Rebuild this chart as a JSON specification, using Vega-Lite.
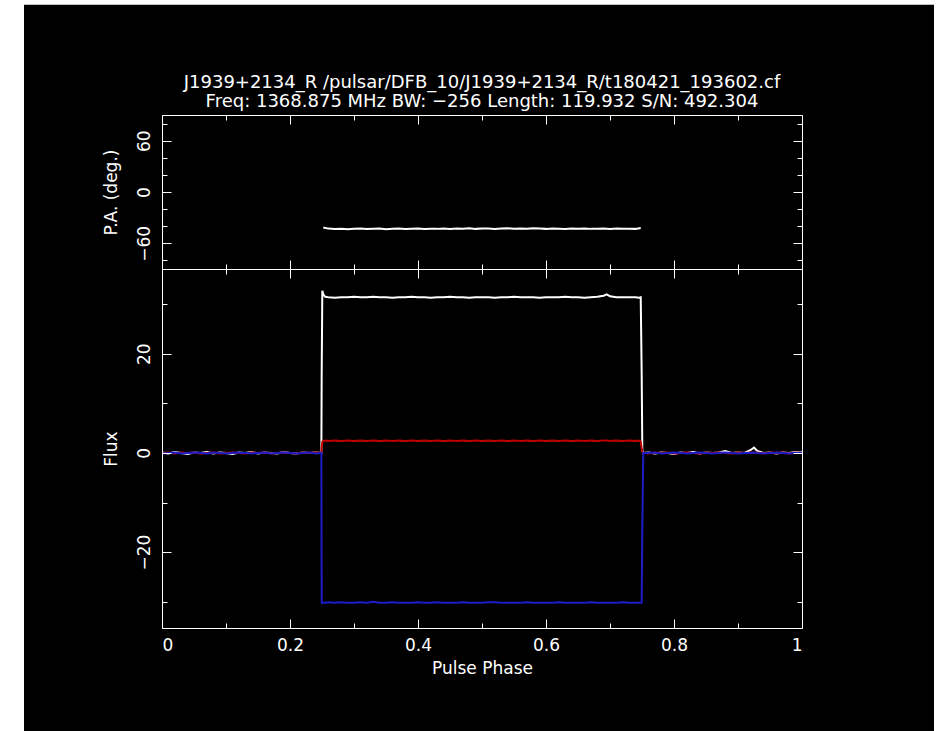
{
  "$schema": "https://vega.github.io/schema/vega-lite/v6.json",
  "background": "white",
  "padding": {"left": 24, "top": 4, "right": 14, "bottom": 0},
  "autosize": {"type": "pad"},
  "spacing": 0,
  "bounds": "flush",
  "config": {
    "view": {"stroke": null},
    "font": "DejaVu Sans",
    "axis": {
      "grid": false,
      "domainColor": "white",
      "domainWidth": 1,
      "tickColor": "white",
      "tickWidth": 1,
      "labelColor": "white",
      "titleColor": "white",
      "labelFont": "DejaVu Sans",
      "titleFont": "DejaVu Sans",
      "labelFontSize": 17,
      "titleFontSize": 17,
      "labelFontWeight": "normal",
      "titleFontWeight": "normal",
      "zindex": 1
    }
  },
  "datasets": {
    "prof": [
      {"p":0,"I":0.1,"L":0,"V":-0.1},
      {"p":0.01,"I":-0.1,"L":0.1,"V":0},
      {"p":0.02,"I":0.2,"L":-0.1,"V":0.1},
      {"p":0.03,"I":0,"L":0.1,"V":-0.1},
      {"p":0.04,"I":-0.2,"L":0,"V":0},
      {"p":0.05,"I":0.1,"L":0.1,"V":0.1},
      {"p":0.06,"I":0,"L":-0.1,"V":0},
      {"p":0.07,"I":0.2,"L":0,"V":-0.1},
      {"p":0.08,"I":-0.1,"L":0.1,"V":0.1},
      {"p":0.09,"I":0.1,"L":-0.1,"V":0},
      {"p":0.1,"I":0,"L":0,"V":-0.1},
      {"p":0.11,"I":-0.2,"L":0.1,"V":0},
      {"p":0.12,"I":0.1,"L":0,"V":0.1},
      {"p":0.13,"I":0,"L":-0.1,"V":0},
      {"p":0.14,"I":0.2,"L":0.1,"V":-0.1},
      {"p":0.15,"I":-0.1,"L":0,"V":0},
      {"p":0.16,"I":0.1,"L":0.1,"V":0.1},
      {"p":0.17,"I":0,"L":-0.1,"V":-0.1},
      {"p":0.18,"I":-0.1,"L":0,"V":0},
      {"p":0.19,"I":0.2,"L":0.1,"V":0.1},
      {"p":0.2,"I":0,"L":0,"V":0},
      {"p":0.21,"I":-0.1,"L":-0.1,"V":-0.1},
      {"p":0.22,"I":0.1,"L":0.1,"V":0},
      {"p":0.23,"I":0,"L":0,"V":0.1},
      {"p":0.24,"I":0.1,"L":0.1,"V":-0.1},
      {"p":0.249,"I":0,"L":0,"V":0},
      {"p":0.2495,"I":16,"L":1.2,"V":-30.1},
      {"p":0.2505,"I":32.7,"L":2.3,"V":-30.3},
      {"p":0.252,"I":32,"L":2.4,"V":-30.2},
      {"p":0.255,"I":31.5,"L":2.5,"V":-30.2},
      {"p":0.26,"I":31.4,"L":2.4,"V":-30.1},
      {"p":0.27,"I":31.3,"L":2.5,"V":-30.2},
      {"p":0.28,"I":31.4,"L":2.4,"V":-30.1},
      {"p":0.29,"I":31.4,"L":2.5,"V":-30.2},
      {"p":0.3,"I":31.5,"L":2.4,"V":-30.2},
      {"p":0.31,"I":31.4,"L":2.5,"V":-30.1},
      {"p":0.32,"I":31.4,"L":2.4,"V":-30.2},
      {"p":0.33,"I":31.5,"L":2.5,"V":-30},
      {"p":0.34,"I":31.4,"L":2.4,"V":-30.2},
      {"p":0.35,"I":31.4,"L":2.5,"V":-30.2},
      {"p":0.36,"I":31.3,"L":2.4,"V":-30.1},
      {"p":0.37,"I":31.4,"L":2.5,"V":-30.2},
      {"p":0.38,"I":31.4,"L":2.4,"V":-30.2},
      {"p":0.39,"I":31.5,"L":2.5,"V":-30.2},
      {"p":0.4,"I":31.4,"L":2.4,"V":-30.1},
      {"p":0.41,"I":31.4,"L":2.5,"V":-30.2},
      {"p":0.42,"I":31.3,"L":2.4,"V":-30.2},
      {"p":0.43,"I":31.4,"L":2.5,"V":-30.1},
      {"p":0.44,"I":31.4,"L":2.4,"V":-30.2},
      {"p":0.45,"I":31.5,"L":2.5,"V":-30.2},
      {"p":0.46,"I":31.4,"L":2.4,"V":-30.2},
      {"p":0.47,"I":31.4,"L":2.5,"V":-30.1},
      {"p":0.48,"I":31.3,"L":2.4,"V":-30.2},
      {"p":0.49,"I":31.4,"L":2.5,"V":-30.2},
      {"p":0.5,"I":31.4,"L":2.4,"V":-30.2},
      {"p":0.51,"I":31.4,"L":2.5,"V":-30.1},
      {"p":0.52,"I":31.3,"L":2.4,"V":-30.1},
      {"p":0.53,"I":31.4,"L":2.5,"V":-30.2},
      {"p":0.54,"I":31.4,"L":2.4,"V":-30.2},
      {"p":0.55,"I":31.5,"L":2.5,"V":-30.2},
      {"p":0.56,"I":31.4,"L":2.4,"V":-30.2},
      {"p":0.57,"I":31.4,"L":2.5,"V":-30.1},
      {"p":0.58,"I":31.4,"L":2.4,"V":-30.2},
      {"p":0.59,"I":31.3,"L":2.5,"V":-30.2},
      {"p":0.6,"I":31.4,"L":2.4,"V":-30.2},
      {"p":0.61,"I":31.4,"L":2.5,"V":-30.2},
      {"p":0.62,"I":31.4,"L":2.4,"V":-30.1},
      {"p":0.63,"I":31.5,"L":2.5,"V":-30.2},
      {"p":0.64,"I":31.4,"L":2.4,"V":-30.2},
      {"p":0.65,"I":31.4,"L":2.5,"V":-30.2},
      {"p":0.66,"I":31.3,"L":2.4,"V":-30.2},
      {"p":0.67,"I":31.4,"L":2.5,"V":-30.1},
      {"p":0.68,"I":31.5,"L":2.4,"V":-30.2},
      {"p":0.69,"I":31.7,"L":2.5,"V":-30.2},
      {"p":0.695,"I":32,"L":2.5,"V":-30.2},
      {"p":0.7,"I":31.6,"L":2.4,"V":-30.2},
      {"p":0.71,"I":31.4,"L":2.5,"V":-30.2},
      {"p":0.72,"I":31.4,"L":2.4,"V":-30.1},
      {"p":0.73,"I":31.4,"L":2.5,"V":-30.2},
      {"p":0.74,"I":31.4,"L":2.4,"V":-30.2},
      {"p":0.745,"I":31.3,"L":2.5,"V":-30.2},
      {"p":0.748,"I":31.4,"L":2.3,"V":-30.2},
      {"p":0.7495,"I":16,"L":1,"V":-30.2},
      {"p":0.7505,"I":0.5,"L":0.3,"V":-15},
      {"p":0.752,"I":0,"L":0,"V":0},
      {"p":0.76,"I":0.1,"L":-0.1,"V":0},
      {"p":0.77,"I":-0.1,"L":0.1,"V":0.1},
      {"p":0.78,"I":0.1,"L":0,"V":-0.1},
      {"p":0.79,"I":0,"L":0.1,"V":0},
      {"p":0.8,"I":-0.2,"L":-0.1,"V":0.1},
      {"p":0.81,"I":0.1,"L":0,"V":0},
      {"p":0.82,"I":0,"L":0.1,"V":-0.1},
      {"p":0.83,"I":0.2,"L":0,"V":0},
      {"p":0.84,"I":-0.1,"L":-0.1,"V":0.1},
      {"p":0.85,"I":0.1,"L":0.1,"V":0},
      {"p":0.86,"I":0,"L":0,"V":-0.1},
      {"p":0.87,"I":0.1,"L":0.1,"V":0},
      {"p":0.88,"I":0.4,"L":0,"V":0.1},
      {"p":0.89,"I":0,"L":-0.1,"V":0},
      {"p":0.9,"I":0.1,"L":0.1,"V":-0.1},
      {"p":0.91,"I":0,"L":0,"V":0},
      {"p":0.92,"I":0.6,"L":0.1,"V":0},
      {"p":0.925,"I":1.1,"L":0,"V":0.1},
      {"p":0.93,"I":0.4,"L":0.1,"V":0},
      {"p":0.94,"I":0,"L":-0.1,"V":-0.1},
      {"p":0.95,"I":0.1,"L":0.1,"V":0},
      {"p":0.96,"I":-0.1,"L":0,"V":0.1},
      {"p":0.97,"I":0.1,"L":0.1,"V":0},
      {"p":0.98,"I":0,"L":-0.1,"V":-0.1},
      {"p":0.99,"I":0.2,"L":0.1,"V":0},
      {"p":1,"I":0.1,"L":0,"V":0}
    ],
    "pa": [
      {"p":0.252,"pa":-41.5},{"p":0.26,"pa":-42.8},{"p":0.27,"pa":-43.2},{"p":0.28,"pa":-42.9},
      {"p":0.29,"pa":-43.4},{"p":0.3,"pa":-43},{"p":0.31,"pa":-42.7},{"p":0.32,"pa":-43.3},
      {"p":0.33,"pa":-43.1},{"p":0.34,"pa":-42.8},{"p":0.35,"pa":-43.4},{"p":0.36,"pa":-43},
      {"p":0.37,"pa":-42.6},{"p":0.38,"pa":-43.2},{"p":0.39,"pa":-43},{"p":0.4,"pa":-42.7},
      {"p":0.41,"pa":-43.3},{"p":0.42,"pa":-42.9},{"p":0.43,"pa":-43.1},{"p":0.44,"pa":-42.6},
      {"p":0.45,"pa":-43.2},{"p":0.46,"pa":-42.8},{"p":0.47,"pa":-43},{"p":0.48,"pa":-42.5},
      {"p":0.49,"pa":-43.1},{"p":0.5,"pa":-42.8},{"p":0.51,"pa":-42.6},{"p":0.52,"pa":-43.2},
      {"p":0.53,"pa":-42.7},{"p":0.54,"pa":-42.4},{"p":0.55,"pa":-42.9},{"p":0.56,"pa":-42.6},
      {"p":0.57,"pa":-43},{"p":0.58,"pa":-42.5},{"p":0.59,"pa":-42.8},{"p":0.6,"pa":-43.1},
      {"p":0.61,"pa":-42.7},{"p":0.62,"pa":-42.9},{"p":0.63,"pa":-43.2},{"p":0.64,"pa":-42.8},
      {"p":0.65,"pa":-43},{"p":0.66,"pa":-42.6},{"p":0.67,"pa":-43.1},{"p":0.68,"pa":-42.9},
      {"p":0.69,"pa":-42.7},{"p":0.7,"pa":-43.2},{"p":0.71,"pa":-42.8},{"p":0.72,"pa":-43},
      {"p":0.73,"pa":-42.9},{"p":0.74,"pa":-43.1},{"p":0.748,"pa":-42}
    ]
  },
  "vconcat": [
    {
      "width": 640,
      "height": 154,
      "layer": [
        {
          "data": {"values": [{}]},
          "mark": {"type": "rect", "color": "black", "clip": false},
          "encoding": {
            "x": {"datum": -0.215625, "type": "quantitative", "scale": {"domain": [0, 1], "nice": false, "zero": false}, "axis": null},
            "x2": {"datum": 1.20625},
            "y": {"datum": 218.9, "type": "quantitative", "scale": {"domain": [-90, 90], "nice": false, "zero": false}, "axis": null},
            "y2": {"datum": -630.8}
          }
        },
        {
          "data": {"name": "pa"},
          "mark": {"type": "line", "color": "white", "strokeWidth": 2},
          "encoding": {
            "x": {"field": "p", "type": "quantitative", "scale": {"domain": [0, 1], "nice": false, "zero": false},
              "axis": {"orient": "bottom", "zindex": 1, "values": [0,0.1,0.2,0.3,0.4,0.5,0.6,0.7,0.8,0.9,1], "labels": false, "title": null,
                "tickSize": {"condition": {"test": "round(datum.value*10)%2==0", "value": -9}, "value": -5}}},
            "y": {"field": "pa", "type": "quantitative", "scale": {"domain": [-90, 90], "nice": false, "zero": false},
              "axis": {"orient": "left", "zindex": 1, "values": [-80,-60,-40,-20,0,20,40,60,80], "labels": false, "title": null,
                "tickSize": {"condition": {"test": "datum.value%60==0", "value": -9}, "value": -5}}}
          }
        },
        {
          "data": {"name": "pa"},
          "mark": {"type": "point", "opacity": 0},
          "encoding": {
            "x": {"field": "p", "type": "quantitative", "scale": {"domain": [0, 1], "nice": false, "zero": false},
              "axis": {"orient": "top", "zindex": 1, "values": [0,0.1,0.2,0.3,0.4,0.5,0.6,0.7,0.8,0.9,1], "labels": false, "title": null,
                "tickSize": {"condition": {"test": "round(datum.value*10)%2==0", "value": -9}, "value": -5}}},
            "y": {"field": "pa", "type": "quantitative", "scale": {"domain": [-90, 90], "nice": false, "zero": false},
              "axis": {"orient": "right", "zindex": 1, "values": [-80,-60,-40,-20,0,20,40,60,80], "labels": false, "title": null,
                "tickSize": {"condition": {"test": "datum.value%60==0", "value": -9}, "value": -5}}}
          }
        },
        {
          "data": {"name": "pa"},
          "mark": {"type": "point", "opacity": 0},
          "encoding": {
            "x": {"field": "p", "type": "quantitative", "scale": {"domain": [0, 1], "nice": false, "zero": false}, "axis": null},
            "y": {"field": "pa", "type": "quantitative", "scale": {"domain": [-90, 90], "nice": false, "zero": false},
              "axis": {"orient": "left", "zindex": 1, "values": [-60, 0, 60], "format": "d", "ticks": false, "domain": false,
                "labelAngle": -90, "labelPadding": 9, "title": "P.A. (deg.)", "titlePadding": 15}}
          }
        }
      ],
      "resolve": {"axis": {"x": "independent", "y": "independent"}}
    },
    {
      "width": 640,
      "height": 359,
      "data": {"name": "prof"},
      "title": {
        "text": ["J1939+2134_R /pulsar/DFB_10/J1939+2134_R/t180421_193602.cf", "Freq: 1368.875 MHz BW: −256 Length: 119.932 S/N: 492.304"],
        "color": "white",
        "font": "DejaVu Sans",
        "fontSize": 18,
        "fontWeight": "normal",
        "anchor": "middle",
        "frame": "group",
        "baseline": "bottom",
        "lineHeight": 19,
        "offset": 140,
        "zindex": 1
      },
      "layer": [
        {
          "transform": [{"fold": ["I", "L", "V"], "as": ["s", "f"]}],
          "mark": {"type": "line", "strokeWidth": 2},
          "encoding": {
            "x": {"field": "p", "type": "quantitative", "scale": {"domain": [0, 1], "nice": false, "zero": false},
              "axis": {"orient": "bottom", "zindex": 1, "values": [0,0.1,0.2,0.3,0.4,0.5,0.6,0.7,0.8,0.9,1], "labels": false, "title": null,
                "tickSize": {"condition": {"test": "round(datum.value*10)%2==0", "value": -9}, "value": -5}}},
            "y": {"field": "f", "type": "quantitative", "scale": {"domain": [-35.3, 37.1], "nice": false, "zero": false},
              "axis": {"orient": "left", "zindex": 1, "values": [-30,-20,-10,0,10,20,30], "labels": false, "title": null,
                "tickSize": {"condition": {"test": "datum.value%20==0", "value": -9}, "value": -5}}},
            "color": {"field": "s", "type": "nominal", "scale": {"domain": ["I", "L", "V"], "range": ["#ffffff", "#c00000", "#1c1cc8"]}, "legend": null}
          }
        },
        {
          "mark": {"type": "point", "opacity": 0},
          "encoding": {
            "x": {"field": "p", "type": "quantitative", "scale": {"domain": [0, 1], "nice": false, "zero": false},
              "axis": {"orient": "top", "zindex": 1, "values": [0,0.1,0.2,0.3,0.4,0.5,0.6,0.7,0.8,0.9,1], "labels": false, "title": null,
                "tickSize": {"condition": {"test": "round(datum.value*10)%2==0", "value": -9}, "value": -5}}},
            "y": {"field": "I", "type": "quantitative", "scale": {"domain": [-35.3, 37.1], "nice": false, "zero": false},
              "axis": {"orient": "right", "zindex": 1, "values": [-30,-20,-10,0,10,20,30], "labels": false, "title": null,
                "tickSize": {"condition": {"test": "datum.value%20==0", "value": -9}, "value": -5}}}
          }
        },
        {
          "mark": {"type": "point", "opacity": 0},
          "encoding": {
            "x": {"field": "p", "type": "quantitative", "scale": {"domain": [0, 1], "nice": false, "zero": false},
              "axis": {"orient": "bottom", "zindex": 1, "values": [0, 0.2, 0.4, 0.6, 0.8, 1], "format": ".1~f", "ticks": false, "domain": false,
                "labelPadding": 9, "title": "Pulse Phase", "titlePadding": 7}},
            "y": {"field": "I", "type": "quantitative", "scale": {"domain": [-35.3, 37.1], "nice": false, "zero": false},
              "axis": {"orient": "left", "zindex": 1, "values": [-20, 0, 20], "format": "d", "ticks": false, "domain": false,
                "labelAngle": -90, "labelPadding": 9, "title": "Flux", "titlePadding": 15}}
          }
        }
      ],
      "resolve": {"axis": {"x": "independent", "y": "independent"}}
    }
  ]
}
